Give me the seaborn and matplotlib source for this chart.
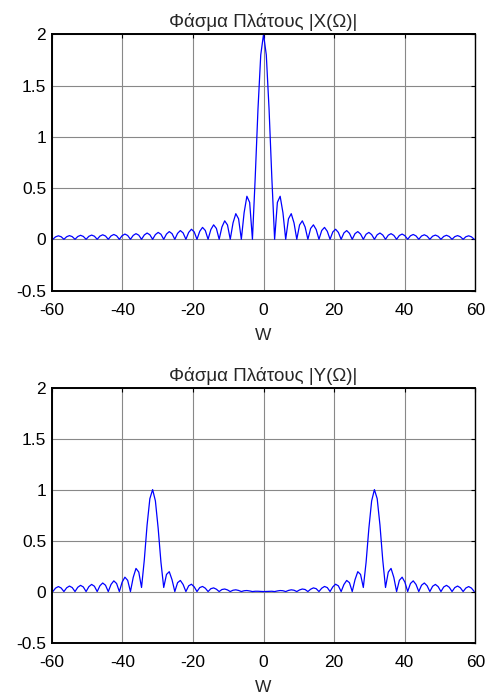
import numpy as np
import pandas as pd
import matplotlib
matplotlib.use("Agg")
import matplotlib.pyplot as plt
import seaborn as sns

# Sampling grid of the frequency axis (W), step pi/4
W = np.linspace(-19 * np.pi, 19 * np.pi, 153)

# |X(W)|
X_mag = [
    0, 0.024, 0.034, 0.025,
    0, 0.025, 0.036, 0.026,
    0, 0.027, 0.039, 0.028,
    0, 0.029, 0.041, 0.030,
    0, 0.031, 0.044, 0.032,
    0, 0.033, 0.047, 0.034,
    0, 0.035, 0.051, 0.037,
    0, 0.038, 0.055, 0.040,
    0, 0.042, 0.061, 0.044,
    0, 0.046, 0.067, 0.049,
    0, 0.051, 0.075, 0.055,
    0, 0.058, 0.085, 0.062,
    0, 0.067, 0.098, 0.072,
    0, 0.078, 0.116, 0.086,
    0, 0.095, 0.141, 0.106,
    0, 0.12, 0.18, 0.14,
    0, 0.16, 0.25, 0.20,
    0, 0.26, 0.42, 0.36,
    0, 0.60, 1.27, 1.80,
    2.00,
    1.80, 1.27, 0.60, 0,
    0.36, 0.42, 0.26, 0,
    0.20, 0.25, 0.16, 0,
    0.14, 0.18, 0.12, 0,
    0.106, 0.141, 0.095, 0,
    0.086, 0.116, 0.078, 0,
    0.072, 0.098, 0.067, 0,
    0.062, 0.085, 0.058, 0,
    0.055, 0.075, 0.051, 0,
    0.049, 0.067, 0.046, 0,
    0.044, 0.061, 0.042, 0,
    0.040, 0.055, 0.038, 0,
    0.037, 0.051, 0.035, 0,
    0.034, 0.047, 0.033, 0,
    0.032, 0.044, 0.031, 0,
    0.030, 0.041, 0.029, 0,
    0.028, 0.039, 0.027, 0,
    0.026, 0.036, 0.025, 0,
    0.025, 0.034, 0.024, 0,
]

# |Y(W)|
Y_mag = [
    0, 0.034, 0.049, 0.035,
    0, 0.037, 0.054, 0.039,
    0, 0.042, 0.061, 0.045,
    0, 0.048, 0.070, 0.052,
    0, 0.057, 0.084, 0.062,
    0, 0.070, 0.105, 0.079,
    0, 0.092, 0.141, 0.110,
    0, 0.139, 0.227, 0.191,
    0.04, 0.311, 0.652, 0.911,
    1.000, 0.889, 0.620, 0.288,
    0.04, 0.168, 0.195, 0.116,
    0, 0.087, 0.109, 0.069,
    0, 0.056, 0.072, 0.046,
    0, 0.039, 0.050, 0.033,
    0, 0.028, 0.036, 0.023,
    0, 0.020, 0.025, 0.016,
    0, 0.013, 0.017, 0.011,
    0, 0.008, 0.010, 0.006,
    0, 0.003, 0.003, 0.001,
    0.000,
    0.001, 0.003, 0.003, 0,
    0.006, 0.010, 0.008, 0,
    0.011, 0.017, 0.013, 0,
    0.016, 0.025, 0.020, 0,
    0.023, 0.036, 0.028, 0,
    0.033, 0.050, 0.039, 0,
    0.046, 0.072, 0.056, 0,
    0.069, 0.109, 0.087, 0,
    0.116, 0.195, 0.168, 0.04,
    0.288, 0.620, 0.889, 1.000,
    0.911, 0.652, 0.311, 0.04,
    0.191, 0.227, 0.139, 0,
    0.110, 0.141, 0.092, 0,
    0.079, 0.105, 0.070, 0,
    0.062, 0.084, 0.057, 0,
    0.052, 0.070, 0.048, 0,
    0.045, 0.061, 0.042, 0,
    0.039, 0.054, 0.037, 0,
    0.035, 0.049, 0.034, 0,
]

titles = ["Φάσμα Πλάτους |X(Ω)|", "Φάσμα Πλάτους |Y(Ω)|"]
xlabel = "W"
xticks = [-60, -40, -20, 0, 20, 40, 60]
xticklabels = ["-60", "-40", "-20", "0", "20", "40", "60"]
yticks = [-0.5, 0, 0.5, 1, 1.5, 2]
yticklabels = ["-0.5", "0", "0.5", "1", "1.5", "2"]

sns.set_style("white")
plt.rcParams["font.family"] = ["Liberation Sans", "DejaVu Sans"]

FS = 12.5

fig = plt.figure(figsize=(4.88, 6.95), dpi=100)
ax_pos = [
    [0.106, 0.582, 0.868, 0.3685],
    [0.106, 0.0755, 0.868, 0.3667],
]

for pos, vals, title in zip(ax_pos, [X_mag, Y_mag], titles):
    ax = fig.add_axes(pos)
    df = pd.DataFrame({"W": W, "mag": vals})
    sns.lineplot(data=df, x="W", y="mag", ax=ax, color="#0000ff",
                 linewidth=0.9, estimator=None, sort=False)
    ax.set_xlim(-60, 60)
    ax.set_ylim(-0.5, 2)
    ax.set_xticks(xticks)
    ax.set_xticklabels(xticklabels)
    ax.set_yticks(yticks)
    ax.set_yticklabels(yticklabels)
    ax.grid(True, color="#888888", linewidth=0.8, linestyle="-")
    ax.set_axisbelow(True)
    ax.tick_params(axis="both", direction="in", length=3, width=0.8,
                   labelsize=FS, top=True, right=True, colors="black")
    ax.tick_params(axis="x", pad=9)
    ax.tick_params(axis="y", pad=4)
    for s in ax.spines.values():
        s.set_color("black")
        s.set_linewidth(1.0)
    ax.spines["left"].set_linewidth(1.4)
    ax.spines["bottom"].set_linewidth(1.4)
    ax.spines["top"].set_linewidth(1.4)
    ax.set_title(title, fontsize=13.5, pad=5)
    ax.set_xlabel(xlabel, fontsize=FS, labelpad=7)
    ax.set_ylabel("")

fig.savefig("out.png", dpi=100)
